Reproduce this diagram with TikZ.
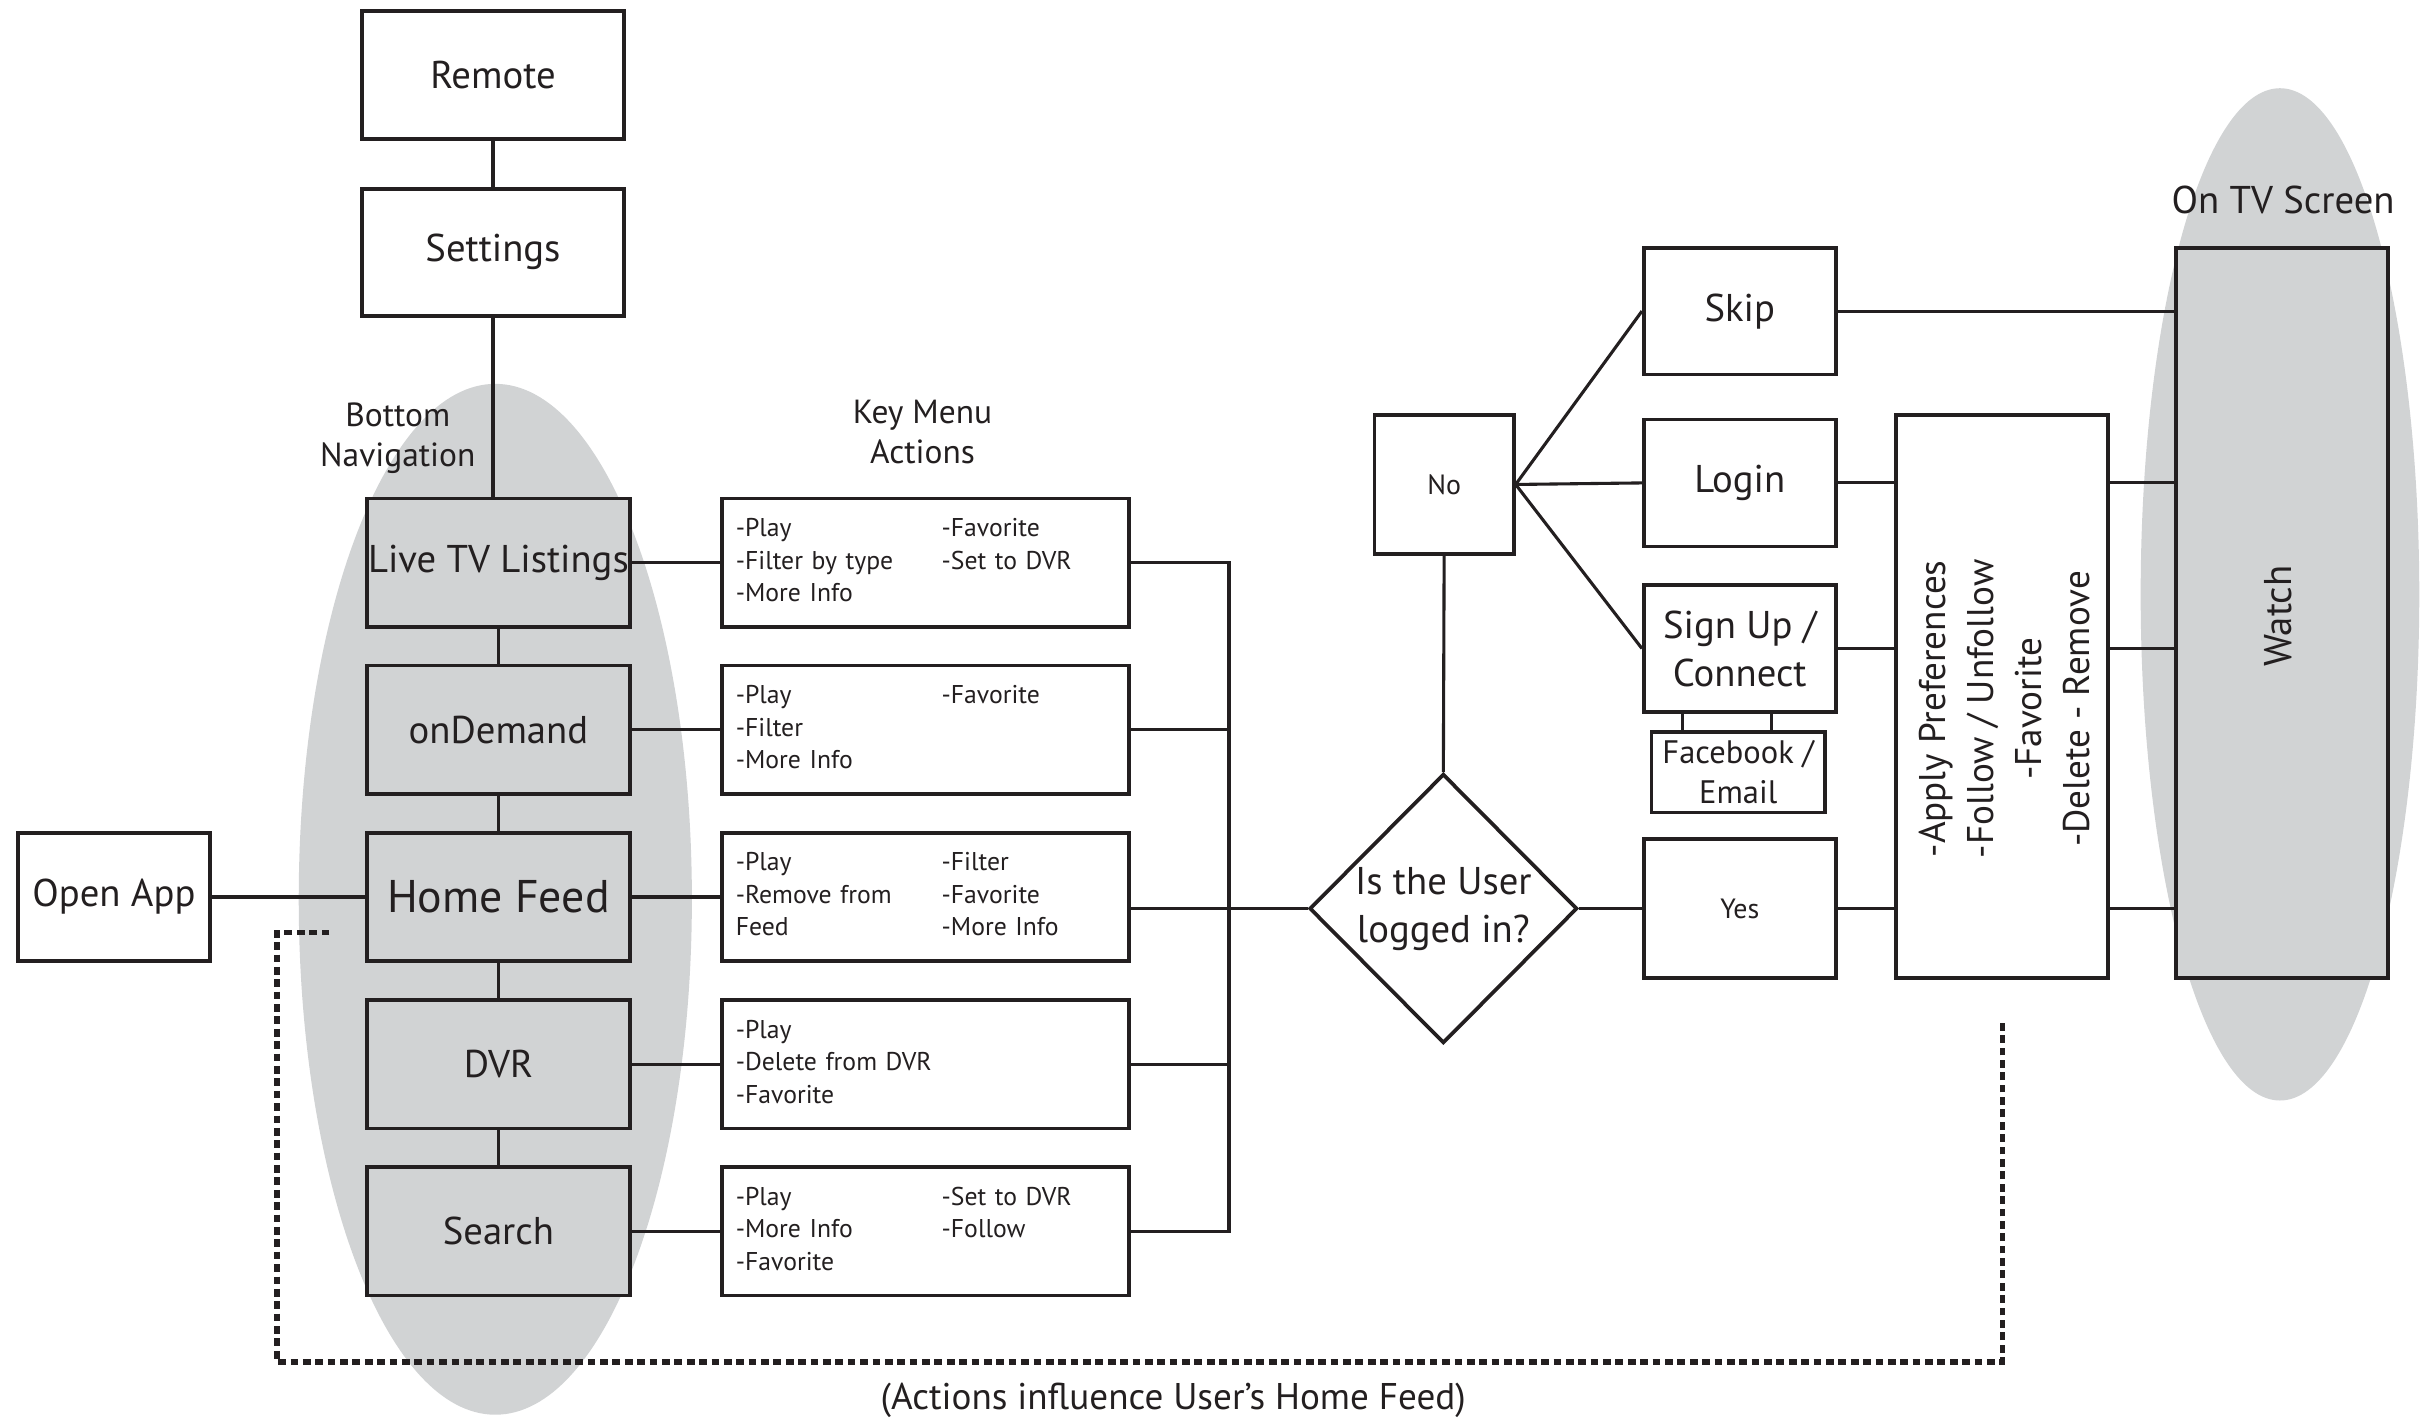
\documentclass[tikz,border=0pt]{standalone}
\usepackage{fontspec}
\setmainfont{PT Sans}
\usepackage{tikz}
\usetikzlibrary{positioning,shapes.geometric}
\definecolor{navgray}{RGB}{209,211,212}
\definecolor{ink}{RGB}{35,31,32}

\begin{document}
\begin{tikzpicture}[
    x=0.5pt,y=-0.5pt,
    color=ink,
    font=\fontsize{12.5}{15.5}\selectfont,
    frame/.style={draw,line width=1.2pt,fill=white,inner sep=0pt,align=center,minimum width=62pt,minimum height=41pt},
    navframe/.style={frame,fill=navgray,minimum width=85pt,minimum height=41.5pt},
    menuframe/.style={draw,line width=1.2pt,fill=white,inner xsep=4.5pt,inner ysep=0pt,text width=122.5pt,minimum height=41.5pt,align=left,font=\fontsize{8.3}{10.5}\selectfont},
    answer/.style={font=\fontsize{9}{11}\selectfont},
    notetext/.style={font=\fontsize{10.8}{13}\selectfont,align=center},
    link/.style={line width=1pt},
    feedback/.style={line width=1.7pt,dash pattern=on 2.5pt off 1.5pt},
    node distance=11.3pt
]
\useasboundingbox (0,0) rectangle (1568,918.7);

% grey areas
\fill[navgray] (320,581) ellipse [x radius=63.5pt,y radius=166.5pt];
\fill[navgray] (1473,384) ellipse [x radius=45pt,y radius=163.5pt];

% left column
\node[frame,minimum width=84.5pt,minimum height=41.5pt] (remote) at (318.5,48.5) {Remote};
\node[frame,minimum width=84.5pt,minimum height=41pt] (settings) at (318.5,163) {Settings};
\node[notetext] (bottomnav) at (257,283) {Bottom\\Navigation};

\node[navframe] (livetv) at (322,363.5) {Live TV Listings};
\node[navframe,below=of livetv] (ondemand) {onDemand};
\node[navframe,below=of ondemand,font=\fontsize{14.8}{17}\selectfont] (homefeed) {Home Feed};
\node[navframe,below=of homefeed] (dvr) {DVR};
\node[navframe,below=of dvr] (search) {Search};
\node[frame,minimum height=41.5pt,left=49.5pt of homefeed] (openapp) {Open App};

% key menu actions
\node[notetext] (keymenu) at (596,279) {Key Menu\\Actions};
\node[menuframe,right=28.5pt of livetv] (menulive) {\begin{tabular}{@{}p{66.5pt}@{}l@{}}-Play & -Favorite\\-Filter by type & -Set to DVR\\-More Info &\end{tabular}};
\node[menuframe,right=28.5pt of ondemand] (menudemand) {\begin{tabular}{@{}p{66.5pt}@{}l@{}}-Play & -Favorite\\-Filter &\\-More Info &\end{tabular}};
\node[menuframe,right=28.5pt of homefeed] (menuhome) {\begin{tabular}{@{}p{66.5pt}@{}l@{}}-Play & -Filter\\-Remove from & -Favorite\\Feed & -More Info\end{tabular}};
\node[menuframe,right=28.5pt of dvr] (menudvr) {\begin{tabular}{@{}l@{}}-Play\\-Delete from DVR\\-Favorite\end{tabular}};
\node[menuframe,right=28.5pt of search] (menusearch) {\begin{tabular}{@{}p{66.5pt}@{}l@{}}-Play & -Set to DVR\\-More Info & -Follow\\-Favorite &\end{tabular}};
\coordinate (bus) at (794,587);

% login check
\node[draw,diamond,line width=1.2pt,inner sep=0pt,minimum width=86.5pt,minimum height=87pt,align=center] (question) at (932.5,587) {Is the User\\logged in?};
\node[frame,answer,minimum width=45pt,minimum height=45pt] (no) at (933,313) {No};
\node[frame] (skip) at (1124,201) {Skip};
\node[frame] (login) at (1124,312) {Login};
\node[frame] (signup) at (1124,419) {Sign Up /\\Connect};
\node[frame,font=\fontsize{10.5}{13}\selectfont,minimum width=56pt,minimum height=26pt] (facebook) at (1123,499) {Facebook /\\Email};
\node[frame,answer,minimum height=45pt] (yes) at (1124,587) {Yes};

% preferences and screen
\node[frame,minimum width=68.5pt,minimum height=182pt] (prefs) at (1293.5,450) {};
\node[rotate=90,align=center,font=\fontsize{12}{15.5}\selectfont] (preftext) at (1295,458) {-Apply Preferences\\-Follow / Unfollow\\-Favorite\\-Delete - Remove};
\node[frame,fill=navgray,minimum width=68.5pt,minimum height=236pt] (watch) at (1474.5,396) {};
\node[rotate=90] (watchtext) at (1472,398) {Watch};
\node (tvscreen) at (1475,129) {On TV Screen};

% connectors
\draw[link] (remote) -- (settings);
\draw[link] (settings.south) -- (settings.south |- livetv.north);
\draw[link] (livetv) -- (ondemand);
\draw[link] (ondemand) -- (homefeed);
\draw[link] (homefeed) -- (dvr);
\draw[link] (dvr) -- (search);
\draw[link] (openapp) -- (homefeed);
\draw[link] (livetv) -- (menulive);
\draw[link] (ondemand) -- (menudemand);
\draw[link] (homefeed) -- (menuhome);
\draw[link] (dvr) -- (menudvr);
\draw[link] (search) -- (menusearch);
\draw[link] (menulive.east) -- (menulive.east -| bus) -- (menusearch.east -| bus) -- (menusearch.east);
\foreach \m in {menudemand,menudvr} \draw[link] (\m.east) -- (\m.east -| bus);
\draw[link] (question.west) -- (question.west -| menuhome.east);
\draw[link] (no.south) -- (question.north);
\draw[link] (no.east) -- (skip.west);
\draw[link] (no.east) -- (login.west);
\draw[link] (no.east) -- (signup.west);
\draw[link] (question) -- (yes);
\draw[link] ([xshift=-18pt]facebook.north) -- ([xshift=-18pt]facebook.north |- signup.south);
\draw[link] ([xshift=10.75pt]facebook.north) -- ([xshift=10.75pt]facebook.north |- signup.south);
\foreach \n in {login,signup,yes} {
  \draw[link] (\n.east) -- (\n.east -| prefs.west);
  \draw[link] (prefs.east |- \n) -- (watch.west |- \n);
}
\draw[link] (skip.east) -- (skip.east -| watch.west);

% feedback loop
\coordinate (fbstart) at ([xshift=-11.5pt,yshift=-11.5pt]homefeed.west);
\coordinate (fbcorner) at (179,880);
\coordinate (fbend) at ([yshift=-14pt]prefs.south);
\draw[feedback] (fbstart) -| (fbcorner) -| (fbend);
\node[font=\fontsize{12}{14}\selectfont] (feedbacknote) at (758,905) {(Actions influence User’s Home Feed)};
\end{tikzpicture}
\end{document}
